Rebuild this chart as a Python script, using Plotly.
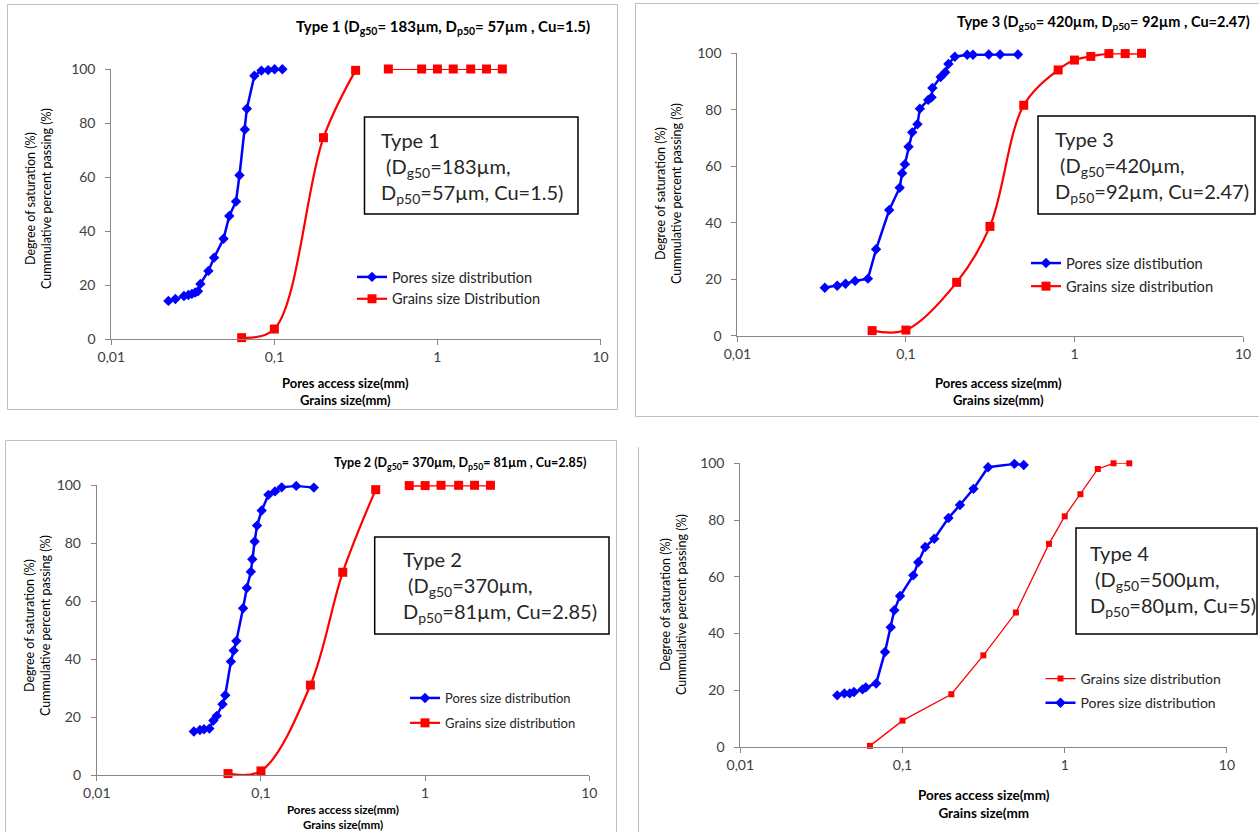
import plotly.graph_objects as go

W, H = 1259, 832
FONT = "Lato"

# ---------------- data ----------------
sieve_sizes = [0.063, 0.1, 0.2, 0.315, 0.5, 0.8, 1.0, 1.25, 1.6, 2.0, 2.5]
tick_vals = [0.01, 0.1, 1, 10]
tick_text = ["0,01", "0,1", "1", "10"]

# Type 1
t1_pore_x = [0.0224, 0.0247, 0.0279, 0.0297, 0.0312, 0.0327, 0.0340, 0.0352, 0.0394, 0.0427,
             0.0488, 0.0529, 0.0582, 0.0611, 0.0659, 0.0678, 0.0754, 0.0833, 0.0916, 0.1003, 0.112]
t1_pore_y = [14.2, 14.9, 16.0, 16.4, 16.8, 17.3, 17.8, 20.5, 25.3, 30.2,
             37.2, 45.6, 51.0, 60.7, 77.6, 85.3, 97.5, 99.4, 99.6, 99.9, 99.9]
t1_grain_x = [0.063, 0.1, 0.2, 0.315, None, 0.5, 0.8, 1.0, 1.25, 1.6, 2.0, 2.5]
t1_grain_y = [0.6, 3.8, 74.6, 99.5, None, 100, 100, 100, 100, 100, 100, 100]

# Type 2
t2_pore_x = [0.0390, 0.0425, 0.0450, 0.0485, 0.0513, 0.0538, 0.0583, 0.0606, 0.0656, 0.0682,
             0.0708, 0.0778, 0.0820, 0.0868, 0.0885, 0.0915, 0.0946, 0.101, 0.111, 0.1217,
             0.1337, 0.164, 0.21]
t2_pore_y = [15.1, 15.6, 15.9, 16.1, 18.9, 20.5, 24.5, 27.6, 39.2, 43.0,
             46.3, 57.6, 64.6, 70.2, 74.5, 80.6, 86.1, 91.3, 96.7, 97.9,
             99.3, 99.8, 99.2]
t2_grain_x = [0.063, 0.1, 0.2, 0.315, 0.5, None, 0.8, 1.0, 1.25, 1.6, 2.0, 2.5]
t2_grain_y = [0.6, 1.5, 31.1, 70.0, 98.5, None, 99.9, 99.9, 100, 100, 100, 100]

# Type 3
t3_pore_x = [0.0330, 0.0391, 0.0438, 0.0499, 0.0595, 0.0665, 0.0796, 0.0918, 0.0949, 0.0986,
             0.1036, 0.109, 0.117, 0.121, 0.1355, 0.142, 0.1436, 0.1607, 0.171, 0.1787,
             0.195, 0.231, 0.25, 0.31, 0.362, 0.462]
t3_pore_y = [17.0, 17.7, 18.4, 19.4, 20.2, 30.6, 44.5, 52.4, 57.5, 60.7,
             66.9, 72.0, 74.9, 80.4, 83.5, 84.4, 87.7, 91.6, 93.3, 96.2,
             98.8, 99.5, 99.5, 99.6, 99.6, 99.6]
t3_grain_y = [1.8, 2.0, 18.9, 38.7, 81.6, 94.1, 97.6, 98.9, 99.9, 99.9, 100]

# Type 4
t4_pore_x = [0.0396, 0.0438, 0.0473, 0.0502, 0.0567, 0.0594, 0.0688, 0.0780, 0.0846, 0.0890,
             0.0966, 0.1165, 0.125, 0.138, 0.157, 0.192, 0.226, 0.274, 0.337, 0.49, 0.559]
t4_pore_y = [18.2, 18.9, 18.9, 19.4, 20.3, 21.0, 22.4, 33.5, 42.2, 48.2,
             53.2, 60.5, 65.1, 70.5, 73.4, 80.7, 85.3, 91.0, 98.6, 99.8, 99.4]
t4_grain_y = [0.4, 9.3, 18.6, 32.3, 47.4, 71.6, 81.3, 89.1, 98.0, 100, 100]

# ---------------- helpers ----------------
def px(x):
    return x / W

def py(y):
    return 1 - y / H

BLUE = "#0000FF"
RED = "#FF0000"

fig = go.Figure()

def pore_trace(x, y, ax, leg, name, lw=2.5, ms=8):
    return go.Scatter(x=x, y=y, xaxis="x" + ax, yaxis="y" + ax, mode="lines+markers",
                      name=name, legend=leg, legendgroup=leg + "p", cliponaxis=False,
                      line=dict(color=BLUE, width=lw),
                      marker=dict(symbol="diamond", size=ms, color=BLUE))

def grain_trace(x, y, ax, leg, name, lw=2.2, ms=9, shape="spline"):
    return go.Scatter(x=x, y=y, xaxis="x" + ax, yaxis="y" + ax, mode="lines+markers",
                      name=name, legend=leg, legendgroup=leg + "g", connectgaps=False,
                      cliponaxis=False,
                      line=dict(color=RED, width=lw, shape=shape, smoothing=1.0),
                      marker=dict(symbol="square", size=ms, color=RED))

# Type 1 (top-left) -> axes 1
fig.add_trace(pore_trace(t1_pore_x, t1_pore_y, "", "legend", "Pores size distribution"))
fig.add_trace(grain_trace(t1_grain_x, t1_grain_y, "", "legend", "Grains size Distribution"))
# Type 3 (top-right) -> axes 2
fig.add_trace(pore_trace(t3_pore_x, t3_pore_y, "2", "legend2", "Pores size distibution"))
fig.add_trace(grain_trace(sieve_sizes, t3_grain_y, "2", "legend2", "Grains size distribution"))
# Type 2 (bottom-left) -> axes 3
fig.add_trace(pore_trace(t2_pore_x, t2_pore_y, "3", "legend3", "Pores size distribution"))
fig.add_trace(grain_trace(t2_grain_x, t2_grain_y, "3", "legend3", "Grains size distribution"))
# Type 4 (bottom-right) -> axes 4
fig.add_trace(grain_trace(sieve_sizes, t4_grain_y, "4", "legend4", "Grains size distribution",
                          lw=1.3, ms=6, shape="linear"))
fig.add_trace(pore_trace(t4_pore_x, t4_pore_y, "4", "legend4", "Pores size distribution"))

# plot areas in pixels: (left, right, top, bottom)
areas = {
    "": (111.3, 600.5, 69.0, 339.3),
    "2": (737.4, 1243.0, 53.3, 335.7),
    "3": (96.8, 589.3, 485.3, 775.3),
    "4": (740.3, 1226.9, 463.3, 747.0),
}

AXIS_GRAY = "#868686"
TICK_FONT = dict(family=FONT, size=14, color="#404040")

layout = dict(
    width=W, height=H, margin=dict(l=0, r=0, t=0, b=0, pad=0, autoexpand=False),
    paper_bgcolor="white", plot_bgcolor="white",
    font=dict(family=FONT, color="#404040"),
    showlegend=True,
)

for k, (l, r, t, b) in areas.items():
    layout["xaxis" + k] = dict(
        type="log", range=[-2, 1], domain=[px(l), px(r)], anchor="y" + k,
        tickvals=tick_vals, ticktext=tick_text, ticks="outside", ticklen=5,
        tickcolor=AXIS_GRAY, showline=True, linecolor=AXIS_GRAY, linewidth=1,
        showgrid=False, zeroline=False, tickfont=TICK_FONT, fixedrange=True,
        automargin=False,
    )
    layout["yaxis" + k] = dict(
        range=[0, 100], domain=[py(b), py(t)], anchor="x" + k,
        tickvals=[0, 20, 40, 60, 80, 100], ticks="outside", ticklen=5,
        tickcolor=AXIS_GRAY, showline=True, linecolor=AXIS_GRAY, linewidth=1,
        showgrid=False, zeroline=False, tickfont=TICK_FONT, ticklabelstandoff=7,
        fixedrange=True, automargin=False,
    )

def legend_at(x, y, size, gap):
    return dict(x=px(x), y=py(y), xanchor="left", yanchor="top", bgcolor="rgba(0,0,0,0)",
                font=dict(family=FONT, size=size, color="#262626"),
                tracegroupgap=gap, traceorder="grouped", itemwidth=30)

layout["legend"] = legend_at(352, 261, 14.5, 0)
layout["legend2"] = legend_at(1026, 247, 14.7, 1)
layout["legend3"] = legend_at(405, 683, 13, 5)
layout["legend4"] = legend_at(1040.5, 663, 14, 3)

shapes = []
FRAME = "#BFBFBF"
def line(x0, y0, x1, y1, color=FRAME, w=1):
    shapes.append(dict(type="line", xref="paper", yref="paper", x0=px(x0), y0=py(y0),
                       x1=px(x1), y1=py(y1), line=dict(color=color, width=w)))

# outer frames
shapes.append(dict(type="rect", xref="paper", yref="paper", x0=px(7.5), y0=py(409.5),
                   x1=px(617.5), y1=py(4.5), line=dict(color=FRAME, width=1)))
line(635.5, 3.5, 1259, 3.5)
line(635.5, 3.5, 635.5, 416.5)
line(635.5, 416.5, 1259, 416.5)
line(5.5, 440.5, 616.5, 440.5)
line(5.5, 440.5, 5.5, 832)
line(616.5, 440.5, 616.5, 832)
line(638.5, 447, 638.5, 832)

# info boxes
boxes = [
    (364.5, 578, 117, 214),
    (1038, 1255, 116, 214),
    (374.7, 609, 537, 634),
    (1076, 1257, 528, 634),
]
for (x0, x1, y0, y1) in boxes:
    shapes.append(dict(type="rect", xref="paper", yref="paper", x0=px(x0), y0=py(y1),
                       x1=px(x1), y1=py(y0), line=dict(color="#000000", width=1.5),
                       fillcolor="rgba(0,0,0,0)"))

layout["shapes"] = shapes

ann = []
def text(x, y, s, size, xanchor="left", yanchor="middle", angle=0, color="#262626", align="left"):
    ann.append(dict(x=px(x), y=py(y), xref="paper", yref="paper", text=s, showarrow=False,
                    xanchor=xanchor, yanchor=yanchor, textangle=angle, align=align,
                    font=dict(family=FONT, size=size, color=color)))

# titles
text(592, 27, "<b>Type 1 (D<sub>g50</sub>= 183µm, D<sub>p50</sub>= 57µm , Cu=1.5)</b>", 15,
     xanchor="right", color="#000000")
text(1252, 23, "<b>Type 3 (D<sub>g50</sub>= 420µm, D<sub>p50</sub>= 92µm , Cu=2.47)</b>", 14.5,
     xanchor="right", color="#000000")
text(588, 463, "<b>Type 2 (D<sub>g50</sub>= 370µm, D<sub>p50</sub>= 81µm , Cu=2.85)</b>", 12.5,
     xanchor="right", color="#000000")

# box texts
text(379, 168, "Type 1<br> (D<sub>g50</sub>=183µm,<br>D<sub>p50</sub>=57µm, Cu=1.5)", 20)
text(1053, 166, "Type 3<br> (D<sub>g50</sub>=420µm,<br>D<sub>p50</sub>=92µm, Cu=2.47)", 20)
text(401, 586, "Type 2<br> (D<sub>g50</sub>=370µm,<br>D<sub>p50</sub>=81µm, Cu=2.85)", 20)
text(1088, 580, "Type 4<br> (D<sub>g50</sub>=500µm,<br>D<sub>p50</sub>=80µm, Cu=5)", 20)

# y-axis titles
ytitle = "Degree of saturation (%)<br>Cummulative percent passing (%)"
text(38, 199, ytitle, 12.5, xanchor="center", angle=-90, color="#000000", align="center")
text(669, 194, ytitle, 12.5, xanchor="center", angle=-90, color="#000000", align="center")
text(37, 626, ytitle, 12.5, xanchor="center", angle=-90, color="#000000", align="center")
text(673, 605, ytitle, 12.5, xanchor="center", angle=-90, color="#000000", align="center")

# x-axis titles
text(345, 391, "<b>Pores access size(mm)<br>Grains size(mm)</b>", 13, xanchor="center",
     color="#000000", align="center")
text(998, 391, "<b>Pores access size(mm)<br>Grains size(mm)</b>", 13, xanchor="center",
     color="#000000", align="center")
text(343, 817, "<b>Pores access size(mm)<br>Grains size(mm)</b>", 11.5, xanchor="center",
     color="#000000", align="center")
text(984, 804, "<b>Pores access size(mm)<br>Grains size(mm</b>", 13.5, xanchor="center",
     color="#000000", align="center")

layout["annotations"] = ann
fig.update_layout(**layout)

fig.write_html("out.html")
